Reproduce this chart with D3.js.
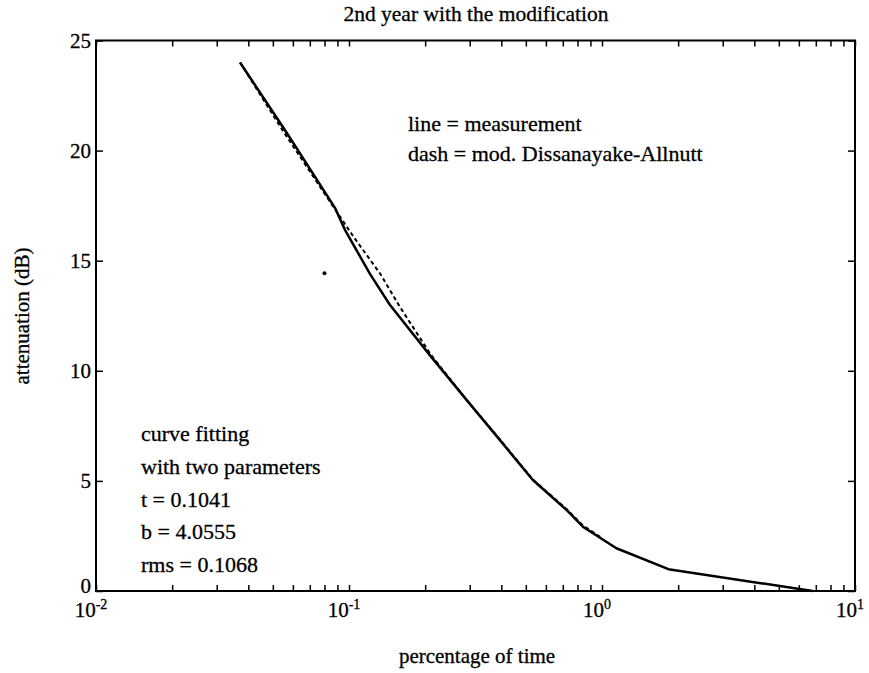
<!DOCTYPE html>
<html>
<head>
<meta charset="utf-8">
<script src="https://cdn.jsdelivr.net/npm/d3@7"></script>
<style>
body { margin: 0; background: #fff; }
svg { font-family: "Liberation Serif", "DejaVu Serif", serif; }
svg text { stroke: #000; stroke-width: 0.3px; }
</style>
</head>
<body>
<div id="container"></div>
<script>
var width = 869, height = 673;

// measured attenuation vs percentage of time
var measTime = [0.0371, 0.0568, 0.088, 0.0964, 0.121, 0.145, 0.209, 0.292, 0.395, 0.533, 0.724, 0.84, 1.14, 1.83, 6.8];
var measAtt  = [24.0, 20.8, 17.4, 16.4, 14.4, 13.0, 10.7, 8.67, 6.85, 5.04, 3.68, 2.92, 1.94, 0.99, 0.0];

// modified Dissanayake-Allnutt model
var modelTime = [0.0371, 0.0555, 0.085, 0.104, 0.133, 0.159, 0.21, 0.292, 0.395, 0.533, 0.724, 0.84, 1.0];
var modelAtt  = [24.0, 20.8, 17.6, 16.1, 14.4, 12.9, 10.75, 8.67, 6.88, 5.06, 3.72, 2.98, 2.4];

// stray point
var dotTime = [0.080];
var dotAtt = [14.43];

var yTicks = [0, 5, 10, 15, 20, 25];
var xDecades = [-2, -1, 0, 1];

var upperNotes = ["line = measurement", "dash = mod. Dissanayake-Allnutt"];
var lowerNotes = ["curve fitting", "with two parameters", "t = 0.1041", "b = 4.0555", "rms = 0.1068"];

var plotLeft = 96, plotRight = 855, plotTop = 40.5, plotBottom = 591;

var x = d3.scaleLog().domain([0.01, 10]).range([plotLeft, plotRight]);
var y = d3.scaleLinear().domain([0, 25]).range([plotBottom, plotTop]);

var svg = d3.select('#container').append('svg')
	.attr('width', width)
	.attr('height', height);

// minor ticks for log axis
var xMinor = [];
for (var e = -2; e < 1; e++) {
	for (var k = 1; k <= 9; k++) xMinor.push(k * Math.pow(10, e));
}
xMinor.push(10);

function styleAxis(g) {
	g.select('.domain').remove();
	g.selectAll('.tick line').attr('stroke', '#000').attr('stroke-width', 1.5);
	g.selectAll('.tick text').remove();
}

svg.append('g').attr('transform', 'translate(0,' + plotBottom + ')')
	.call(d3.axisBottom(x).tickValues(xMinor).tickSize(-6)).call(styleAxis);
svg.append('g').attr('transform', 'translate(0,' + plotTop + ')')
	.call(d3.axisTop(x).tickValues(xMinor).tickSize(-6)).call(styleAxis);
svg.append('g').attr('transform', 'translate(' + plotLeft + ',0)')
	.call(d3.axisLeft(y).tickValues(yTicks).tickSize(-7)).call(styleAxis);
svg.append('g').attr('transform', 'translate(' + plotRight + ',0)')
	.call(d3.axisRight(y).tickValues(yTicks).tickSize(-7)).call(styleAxis);

// frame
svg.append('rect')
	.attr('x', plotLeft).attr('y', plotTop)
	.attr('width', plotRight - plotLeft).attr('height', plotBottom - plotTop)
	.attr('fill', 'none').attr('stroke', '#000').attr('stroke-width', 2);

// y labels
svg.selectAll('text.ylab').data(yTicks).enter().append('text')
	.attr('class', 'ylab')
	.attr('x', plotLeft - 5)
	.attr('y', function(d) { return y(d) + (d === 0 ? 2 : 7); })
	.attr('text-anchor', 'end')
	.style('font-size', '21px')
	.text(function(d) { return d; });

// x labels, 10^n
var xl = svg.selectAll('text.xlab').data(xDecades).enter().append('text')
	.attr('class', 'xlab')
	.attr('x', function(d) { return x(Math.pow(10, d)) - 5; })
	.attr('y', plotBottom + 26)
	.attr('text-anchor', 'middle')
	.style('font-size', '21px');
xl.append('tspan').text('10');
xl.append('tspan').attr('dy', -8).style('font-size', '14px')
	.text(function(d) { return d; });

// lines
var line = d3.line()
	.x(function(d) { return x(d[0]); })
	.y(function(d) { return y(d[1]); });

var modelPts = d3.zip(modelTime, modelAtt);
var measPts = d3.zip(measTime, measAtt);

svg.append('path').datum(modelPts)
	.attr('d', line)
	.attr('fill', 'none').attr('stroke', '#000')
	.attr('stroke-width', 2).attr('stroke-dasharray', '4,3');

svg.append('path').datum(measPts)
	.attr('d', line)
	.attr('fill', 'none').attr('stroke', '#000')
	.attr('stroke-width', 2.5).attr('stroke-linejoin', 'round');

svg.selectAll('circle.dot').data(d3.zip(dotTime, dotAtt)).enter().append('circle')
	.attr('class', 'dot')
	.attr('cx', function(d) { return x(d[0]); })
	.attr('cy', function(d) { return y(d[1]); })
	.attr('r', 2).attr('fill', '#000');

// annotations
svg.selectAll('text.up').data(upperNotes).enter().append('text')
	.attr('class', 'up')
	.attr('x', 408)
	.attr('y', function(d, i) { return 131 + i * 30; })
	.style('font-size', '22px')
	.text(function(d) { return d; });

svg.selectAll('text.low').data(lowerNotes).enter().append('text')
	.attr('class', 'low')
	.attr('x', 141)
	.attr('y', function(d, i) { return 441 + i * 32.8; })
	.style('font-size', '22px')
	.text(function(d) { return d; });

// titles
svg.append('text')
	.attr('x', 476).attr('y', 21)
	.attr('text-anchor', 'middle')
	.style('font-size', '21.5px')
	.text('2nd year with the modification');

svg.append('text')
	.attr('x', 477).attr('y', 663)
	.attr('text-anchor', 'middle')
	.style('font-size', '21px')
	.text('percentage of time');

svg.append('text')
	.attr('transform', 'translate(29,316) rotate(-90)')
	.attr('text-anchor', 'middle')
	.style('font-size', '21px')
	.text('attenuation (dB)');
</script>
</body>
</html>
